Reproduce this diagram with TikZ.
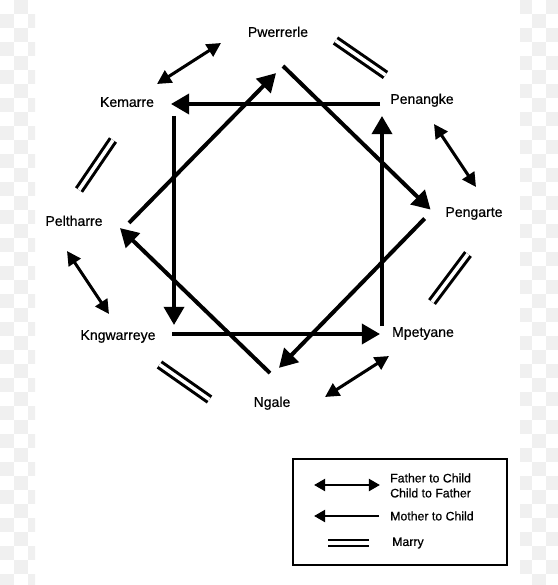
\documentclass[tikz,border=0pt]{standalone}
\usepackage{fontspec}
\setmainfont{Liberation Sans}[FakeBold=0.6]
\usetikzlibrary{arrows.meta}

\begin{document}
\begin{tikzpicture}[x=0.03cm, y=-0.03cm,
  person/.style={font=\fontsize{12}{14}\selectfont, inner sep=2pt, text height=1.5ex, text depth=.25ex},
  legtext/.style={font=\fontsize{10.5}{12.8}\selectfont, anchor=west, align=left, inner sep=0pt},
  mother/.style={line width=3.4pt, -{Triangle[length=15.5pt, width=17pt]}},
  father/.style={line width=2.6pt, {Triangle[length=12pt, width=12pt]}-{Triangle[length=12pt, width=12pt]}},
  marry/.style={line width=2.6pt, double distance=3pt},
  legmother/.style={line width=2.3pt, -{Triangle[length=9.4pt, width=10pt]}},
  legfather/.style={line width=2.3pt, {Triangle[length=9.4pt, width=10pt]}-{Triangle[length=9.4pt, width=10pt]}},
  legmarry/.style={line width=2.4pt, double distance=2.8pt},
  checker/.style={fill=black!6}]
\useasboundingbox (0,0) rectangle (558,585);

% Checkered strips at the sides
\begin{scope}
\clip (0,0) rectangle (35,585) (520,0) rectangle (558,585);
\foreach \r in {0,...,41}
  \foreach \c in {0,1,2,37,38,39} {
    \pgfmathtruncatemacro\odd{mod(\r+\c,2)}
    \ifnum\odd=1 \fill[checker] (14*\c,14*\r) rectangle ++(14,14); \fi
  }
\end{scope}

% Section names
\node[person] (pwerrerle) at (278,33) {Pwerrerle};
\node[person] (kemarre) at (127,103) {Kemarre};
\node[person] (penangke) at (422,100) {Penangke};
\node[person] (peltharre) at (74,222) {Peltharre};
\node[person] (pengarte) at (474,213) {Pengarte};
\node[person] (kngwarreye) at (118,336) {Kngwarreye};
\node[person] (mpetyane) at (423,333) {Mpetyane};
\node[person] (ngale) at (272,403) {Ngale};

% Where the descent lines meet
\coordinate (kem) at (174,104);
\coordinate (kgw) at (174,334);
\coordinate (mpe) at (382,334);
\coordinate (pen) at (382,104);
\coordinate (pwe) at (283,66);
\coordinate (pga) at (432,211);
\coordinate (nga) at (272,375);
\coordinate (pel) at (122,230);

% Mother to child
\draw[mother, shorten <=1.7pt, shorten >=-2.6pt] (pen) -- (kem);
\draw[mother, shorten <=10.2pt, shorten >=7.7pt] (kem) -- (kgw);
\draw[mother, shorten <=-1.7pt, shorten >=1.7pt] (kgw) -- (mpe);
\draw[mother, shorten <=6.8pt, shorten >=10.2pt] (mpe) -- (pen);
\draw[mother, shorten <=8.5pt, shorten >=8.5pt] (pel) -- (pwe);
\draw[mother, shorten <=0pt, shorten >=1.7pt] (pwe) -- (pga);
\draw[mother, shorten <=9pt, shorten >=8.5pt] (pga) -- (nga);
\draw[mother, shorten <=2.4pt, shorten >=-2.4pt] (nga) -- (pel);

% Father to child
\path (157,84) coordinate (kem-f) (221,43) coordinate (pwe-f)
      (434,124) coordinate (pen-f) (476,187) coordinate (pga-f)
      (67,251) coordinate (pel-f) (109,314) coordinate (kgw-f)
      (389,356) coordinate (mpe-f) (325,397) coordinate (nga-f);
\draw[father] (kem-f) -- (pwe-f);
\draw[father] (pen-f) -- (pga-f);
\draw[father] (pel-f) -- (kgw-f);
\draw[father] (mpe-f) -- (nga-f);

% Marriages
\path (335.5,40.5) coordinate (pwe-m) (385.5,75) coordinate (pen-m)
      (113,140) coordinate (kem-m) (79,190) coordinate (pel-m)
      (468,254) coordinate (pga-m) (432,302) coordinate (mpe-m)
      (159.5,364.5) coordinate (kgw-m) (209.5,399.5) coordinate (nga-m);
\draw[marry] (pwe-m) -- (pen-m);
\draw[marry] (kem-m) -- (pel-m);
\draw[marry] (pga-m) -- (mpe-m);
\draw[marry] (kgw-m) -- (nga-m);

% Legend
\draw[line width=1.7pt] (293,459) rectangle (507,565);
\node[legtext] (lfather) at (390,485.5) {Father to Child\\Child to Father};
\node[legtext] (lmother) at (390,516) {Mother to Child};
\node[legtext] (lmarry) at (392,543) {Marry};
\draw[legfather] (314,485) -- (380,485);
\draw[legmother] (379,516) -- (314,516);
\draw[legmarry] (328,543) -- (369,543);
\end{tikzpicture}
\end{document}
